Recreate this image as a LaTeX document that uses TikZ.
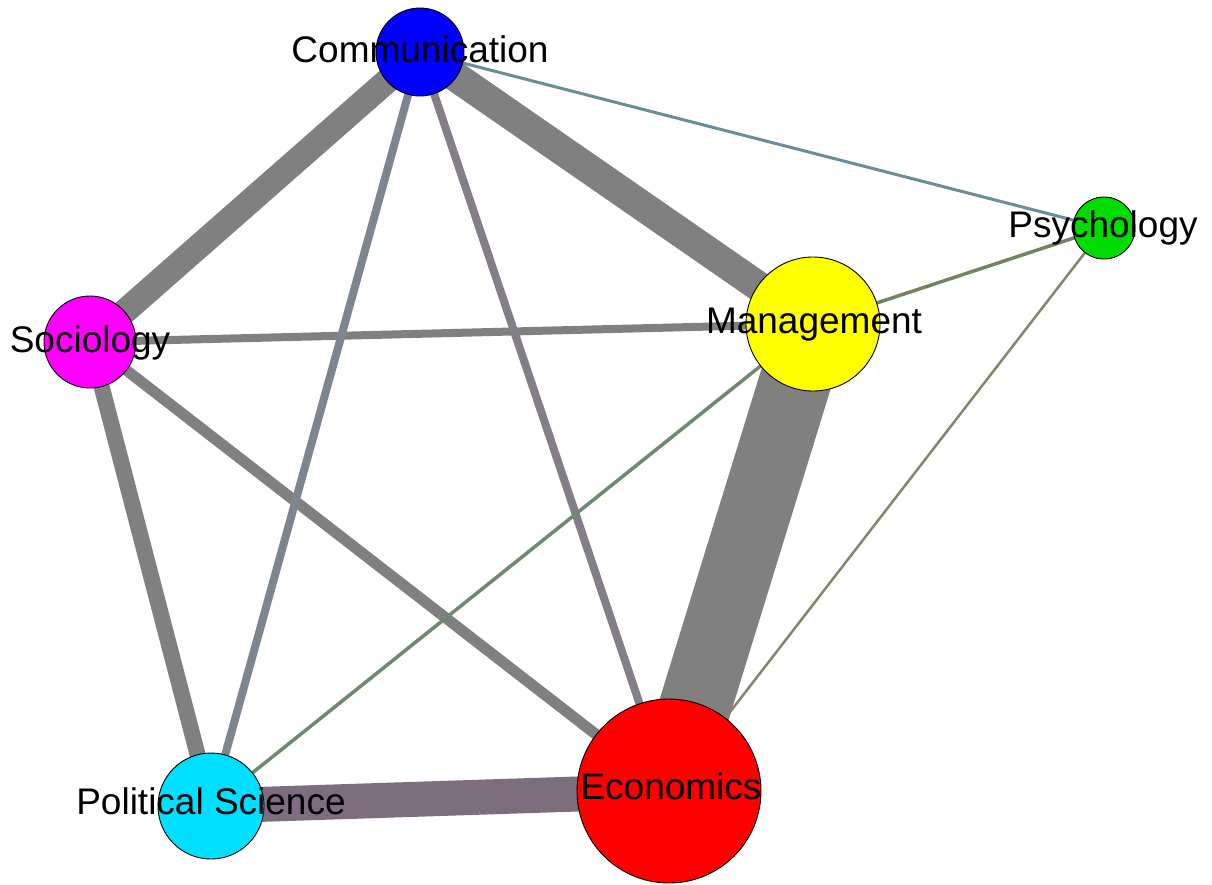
\documentclass[tikz,border=0pt]{standalone}
\usepackage{fontspec}
\setmainfont{Liberation Sans}
\begin{document}
\begin{tikzpicture}[x=1pt,y=-1pt,
  vtx/.style={circle,draw=black,line width=0.9pt,inner sep=0pt},
  lbl/.style={anchor=base,inner sep=0pt,font=\fontsize{37}{40}\selectfont},
  edge/.style={draw=#1,line cap=butt},
]
\definecolor{egray}{HTML}{808080}
\definecolor{epurp}{HTML}{7D6E7E}
\definecolor{eblue}{HTML}{7D8690}
\definecolor{eviol}{HTML}{837E88}
\definecolor{eslate}{HTML}{6B8C98}
\definecolor{eolive}{HTML}{74855E}
\definecolor{ekhaki}{HTML}{86856C}
\definecolor{egreen}{HTML}{6F8872}
\definecolor{nblue}{HTML}{0000FF}
\definecolor{ncyan}{HTML}{00DFFF}
\definecolor{ngreen}{HTML}{00DC00}
\definecolor{nyellow}{HTML}{FFFF00}
\definecolor{nmagenta}{HTML}{FF00FF}
\definecolor{nred}{HTML}{FF0000}
\useasboundingbox (0,0) rectangle (1212,884);
\fill[white] (0,0) rectangle (1212,884);
\node[inner sep=0pt,minimum size=0pt] (com) at (420,52) {};
\node[inner sep=0pt,minimum size=0pt] (psy) at (1104,228) {};
\node[inner sep=0pt,minimum size=0pt] (man) at (813,324) {};
\node[inner sep=0pt,minimum size=0pt] (soc) at (90,342) {};
\node[inner sep=0pt,minimum size=0pt] (pol) at (211,806) {};
\node[inner sep=0pt,minimum size=0pt] (eco) at (669,791) {};
% edges
\draw[edge=egray,line width=72pt] (man.center) -- (eco.center);
\draw[edge=epurp,line width=35pt] (pol.center) -- (eco.center);
\draw[edge=egray,line width=30pt] (com.center) -- (man.center);
\draw[edge=egray,line width=25pt] (com.center) -- (soc.center);
\draw[edge=egray,line width=16pt] (soc.center) -- (pol.center);
\draw[edge=egray,line width=11pt] (soc.center) -- (eco.center);
\draw[edge=egray,line width=8pt] (soc.center) -- (man.center);
\draw[edge=eblue,line width=8pt] (com.center) -- (pol.center);
\draw[edge=eviol,line width=8pt] (com.center) -- (eco.center);
\draw[edge=eslate,line width=3pt] (com.center) -- (psy.center);
\draw[edge=eolive,line width=3.5pt] (man.center) -- (psy.center);
\draw[edge=ekhaki,line width=2.5pt] (psy.center) -- (eco.center);
\draw[edge=egreen,line width=3.5pt] (man.center) -- (pol.center);
% circles
\node[vtx,fill=nblue,minimum size=88pt] (ccom) at (com) {};
\node[vtx,fill=ngreen,minimum size=62pt] (cpsy) at (psy) {};
\node[vtx,fill=nyellow,minimum size=134pt] (cman) at (man) {};
\node[vtx,fill=nmagenta,minimum size=92pt] (csoc) at (soc) {};
\node[vtx,fill=ncyan,minimum size=106pt] (cpol) at (pol) {};
\node[vtx,fill=nred,minimum size=184pt] (ceco) at (eco) {};
% labels
\node[lbl] (tcom) at (420,62) {Communication};
\node[lbl] (tpsy) at (1103,237) {Psychology};
\node[lbl] (tman) at (814,333) {Management};
\node[lbl] (tsoc) at (90,352) {Sociology};
\node[lbl] (tpol) at (211,814) {Political Science};
\node[lbl] (teco) at (671,799) {Economics};
\end{tikzpicture}
\end{document}
